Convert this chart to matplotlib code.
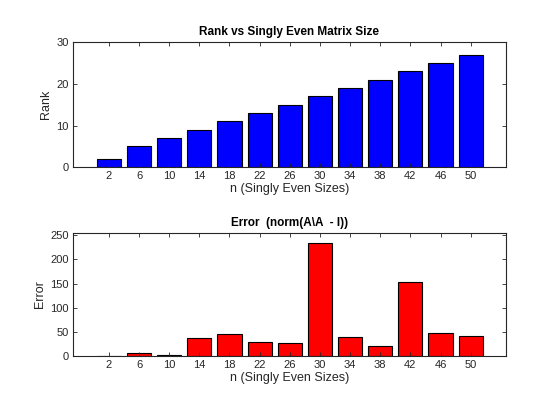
import numpy as np
import matplotlib
matplotlib.use("Agg")
import matplotlib.pyplot as plt

# singly even sizes and results
sizes = [2, 6, 10, 14, 18, 22, 26, 30, 34, 38, 42, 46, 50]
rank_vals = [2, 5, 7, 9, 11, 13, 15, 17, 19, 21, 23, 25, 27]
err_vals = [0, 5.5, 1.4, 36.5, 46, 29.6, 27.5, 234, 40, 21.3, 153.6, 48, 42]

plt.rcParams['font.family'] = ['Liberation Sans', 'DejaVu Sans']
txt = '#262626'

def style_ax(ax):
    ax.tick_params(direction='in', length=3, width=0.6, top=True, right=True,
                   labelsize=8, colors=txt, pad=3)
    for s in ax.spines.values():
        s.set_linewidth(0.8)
        s.set_color(txt)

fig = plt.figure(figsize=(5.6, 4.2), dpi=100)
ax1 = fig.add_axes([0.1298, 0.6017, 0.774, 0.2976])
ax2 = fig.add_axes([0.1298, 0.1524, 0.774, 0.293])

ax1.bar(sizes, rank_vals, width=3.2, color='#0000ff', edgecolor='black', linewidth=0.8)
ax1.set_xlim(-2.8, 54.7)
ax1.set_ylim(0, 30)
ax1.set_xticks(sizes)
ax1.set_yticks([0, 10, 20, 30])
ax1.set_title('Rank vs Singly Even Matrix Size', fontsize=8.5, fontweight='bold', color='black', pad=5)
ax1.set_xlabel('n (Singly Even Sizes)', fontsize=9, color=txt, labelpad=1)
ax1.set_ylabel('Rank', fontsize=9, color=txt, labelpad=3)
style_ax(ax1)

ax2.bar(sizes, err_vals, width=3.2, color='#ff0000', edgecolor='black', linewidth=0.8)
ax2.set_xlim(-2.8, 54.7)
ax2.set_ylim(0, 255)
ax2.set_xticks(sizes)
ax2.set_yticks([0, 50, 100, 150, 200, 250])
ax2.set_title('Error  (norm(A\\A  - I))', fontsize=8.5, fontweight='bold', color='black', pad=5)
ax2.set_xlabel('n (Singly Even Sizes)', fontsize=9, color=txt, labelpad=1)
ax2.set_ylabel('Error', fontsize=9, color=txt, labelpad=3)
style_ax(ax2)

fig.savefig('out.png', dpi=100)
